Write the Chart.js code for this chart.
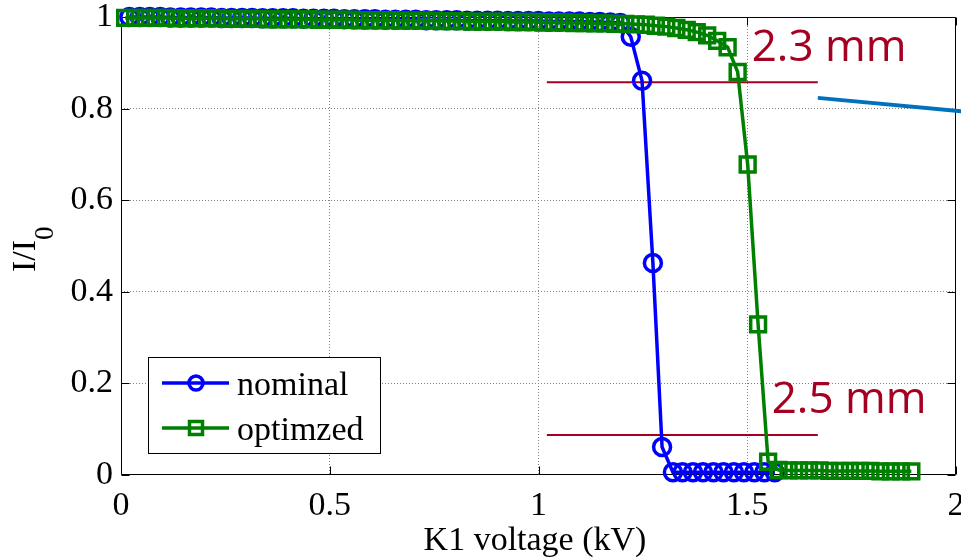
<!DOCTYPE html>
<html><head><meta charset="utf-8">
<script src="https://cdn.jsdelivr.net/npm/chart.js@4"></script>
<style>html,body{margin:0;padding:0;background:#fff;} canvas{display:block;}</style>
</head><body>
<canvas id="c" width="961" height="560"></canvas>
<script>
// ---------- data ----------
const xTicks = [0, 0.5, 1, 1.5, 2];
const xTickLabels = ['0', '0.5', '1', '1.5', '2'];
const yTicks = [0, 0.2, 0.4, 0.6, 0.8, 1];
const yTickLabels = ['0', '0.2', '0.4', '0.6', '0.8', '1'];
const seriesNames = ['nominal', 'optimzed'];
const xTitle = 'K1 voltage (kV)';
const yTitleMain = 'I/I';
const yTitleSub = '0';

const nominalX = [
  0.020,0.045,0.069,0.094,0.118,0.143,0.167,0.192,0.216,0.241,
  0.265,0.290,0.314,0.339,0.363,0.388,0.412,0.437,0.461,0.486,
  0.510,0.535,0.559,0.584,0.608,0.633,0.657,0.682,0.706,0.731,
  0.755,0.780,0.804,0.829,0.853,0.878,0.902,0.927,0.951,0.976,
  1.000,1.025,1.049,1.074,1.098,1.123,1.147,1.172,1.196,1.221,
  1.248,1.274,1.296,1.322,1.345,1.370,1.394,1.419,1.443,1.468,
  1.492,1.517,1.541,1.566
];
const nominalY = [
  1.000,1.000,1.000,1.000,0.999,0.999,0.999,0.999,0.999,0.998,
  0.998,0.998,0.998,0.997,0.997,0.997,0.997,0.996,0.996,0.996,
  0.996,0.995,0.995,0.995,0.995,0.994,0.994,0.994,0.994,0.993,
  0.993,0.993,0.993,0.992,0.992,0.992,0.992,0.991,0.991,0.991,
  0.991,0.990,0.990,0.990,0.990,0.989,0.989,0.988,0.987,0.957,
  0.861,0.463,0.061,0.006,0.006,0.006,0.006,0.006,0.006,0.006,
  0.006,0.006,0.006,0.006
];
const optimizedX = [
  0.010,0.034,0.059,0.083,0.108,0.132,0.157,0.181,0.206,0.230,
  0.255,0.279,0.303,0.328,0.352,0.377,0.401,0.426,0.450,0.475,
  0.499,0.523,0.548,0.572,0.597,0.621,0.646,0.670,0.695,0.719,
  0.744,0.768,0.792,0.817,0.841,0.866,0.890,0.915,0.939,0.964,
  0.988,1.012,1.037,1.061,1.086,1.110,1.135,1.159,1.184,1.208,
  1.233,1.257,1.281,1.306,1.330,1.355,1.379,1.404,1.428,1.453,
  1.477,1.501,1.526,1.550,1.575,1.599,1.624,1.648,1.673,1.697,
  1.722,1.746,1.770,1.795,1.819,1.844,1.868,1.893
];
const optimizedY = [
  0.998,0.998,0.998,0.998,0.998,0.997,0.997,0.997,0.997,0.997,
  0.996,0.996,0.996,0.996,0.995,0.995,0.995,0.995,0.995,0.994,
  0.994,0.994,0.994,0.993,0.993,0.993,0.993,0.992,0.992,0.992,
  0.992,0.991,0.991,0.991,0.990,0.990,0.990,0.990,0.989,0.989,
  0.989,0.988,0.988,0.988,0.987,0.987,0.986,0.986,0.985,0.985,
  0.984,0.983,0.981,0.979,0.976,0.972,0.967,0.960,0.948,0.934,
  0.880,0.678,0.329,0.029,0.011,0.010,0.010,0.010,0.010,0.009,
  0.009,0.009,0.009,0.009,0.008,0.008,0.008,0.008
];
// annotation lines (data units)
const line23X = [1.020, 1.669];
const line23Y = [0.8575, 0.8575];
const line25X = [1.020, 1.669];
const line25Y = [0.0874, 0.0874];
const pointerX = [1.669, 2.030];
const pointerY = [0.8234, 0.7925];
const annoText = ['2.3 mm', '2.5 mm'];
const annoX = [1.5106, 1.5585];
const annoY = [0.9033, 0.1349];

// ---------- helpers ----------
const zip = (xs, ys) => xs.map((x, i) => ({x: x, y: ys[i]}));
const SERIF = "'Liberation Serif','Times New Roman',serif";
const FS = 34;
const BLUE = '#0000FF', GREEN = '#008000', RED = '#A50021', LBLUE = '#0072BD';

const framePlugin = {
  id: 'frame',
  beforeDatasetsDraw(chart) {
    const {ctx, chartArea: a, scales: {x, y}} = chart;
    ctx.save();
    ctx.strokeStyle = '#000';
    ctx.lineWidth = 1;
    const L = Math.round(a.left) + 0.5, R = Math.round(a.right) - 0.5;
    const T = Math.round(a.top) + 0.5, B = Math.round(a.bottom) - 0.5;
    ctx.beginPath();
    ctx.rect(L, T, R - L, B - T);
    const tl = 8;
    xTicks.forEach(v => {
      const px = Math.round(x.getPixelForValue(v)) + 0.5;
      ctx.moveTo(px, B); ctx.lineTo(px, B - tl);
      ctx.moveTo(px, T); ctx.lineTo(px, T + tl);
    });
    yTicks.forEach(v => {
      const py = Math.round(y.getPixelForValue(v)) + 0.5;
      ctx.moveTo(L, py); ctx.lineTo(L + tl, py);
      ctx.moveTo(R, py); ctx.lineTo(R - tl, py);
    });
    ctx.stroke();
    ctx.restore();
  },
  afterDraw(chart) {
    const {ctx, scales: {x, y}} = chart;
    ctx.save();
    // annotation texts
    ctx.fillStyle = RED;
    ctx.font = "44px 'Open Sans', Lato, sans-serif";
    ctx.textAlign = 'left';
    ctx.textBaseline = 'alphabetic';
    annoText.forEach((t, i) => ctx.fillText(t, x.getPixelForValue(annoX[i]), y.getPixelForValue(annoY[i])));

    // x title
    ctx.fillStyle = '#000';
    ctx.font = FS + 'px ' + SERIF;
    ctx.textAlign = 'center';
    ctx.fillText(xTitle, 535, 550);

    // y title with subscript
    ctx.save();
    ctx.translate(35, 272);
    ctx.rotate(-Math.PI / 2);
    ctx.textAlign = 'left';
    ctx.font = FS + 'px ' + SERIF;
    ctx.fillText(yTitleMain, 0, 0);
    const w1 = ctx.measureText(yTitleMain).width;
    ctx.font = '27px ' + SERIF;
    ctx.fillText(yTitleSub, w1, 18);
    ctx.restore();

    // legend
    const bx = 148.5, by = 357.5, bw = 232, bh = 96;
    ctx.fillStyle = '#fff';
    ctx.fillRect(bx, by, bw, bh);
    ctx.strokeStyle = '#000';
    ctx.lineWidth = 1;
    ctx.strokeRect(bx, by, bw, bh);
    const rows = [
      {c: BLUE, y: 383, shape: 'circle', name: seriesNames[0]},
      {c: GREEN, y: 428, shape: 'rect', name: seriesNames[1]}
    ];
    rows.forEach(r => {
      ctx.strokeStyle = r.c;
      ctx.lineWidth = 3.5;
      ctx.beginPath();
      ctx.moveTo(162, r.y); ctx.lineTo(229, r.y);
      ctx.stroke();
      ctx.lineWidth = 3.5;
      ctx.beginPath();
      if (r.shape === 'circle') ctx.arc(196, r.y, 7, 0, Math.PI * 2);
      else ctx.rect(196 - 6.5, r.y - 6.5, 13, 13);
      ctx.stroke();
      ctx.fillStyle = '#000';
      ctx.font = FS + 'px ' + SERIF;
      ctx.textAlign = 'left';
      ctx.textBaseline = 'alphabetic';
      ctx.fillText(r.name, 237, r.y + 12);
    });
    ctx.restore();
  }
};

const gridColor = (lo, hi) => ctx => (ctx.tick && (ctx.tick.value === lo || ctx.tick.value === hi)) ? 'rgba(0,0,0,0)' : '#808080';

new Chart(document.getElementById('c'), {
  type: 'scatter',
  data: {
    datasets: [
      {
        label: seriesNames[1], data: zip(optimizedX, optimizedY), showLine: true, clip: false,
        borderColor: GREEN, borderWidth: 3.5, pointStyle: 'rect', pointRadius: 10.5,
        pointBorderWidth: 3.5, pointBorderColor: GREEN, pointBackgroundColor: 'rgba(0,0,0,0)', tension: 0
      },
      {
        label: seriesNames[0], data: zip(nominalX, nominalY), showLine: true, clip: false,
        borderColor: BLUE, borderWidth: 3.5, pointStyle: 'circle', pointRadius: 8.5,
        pointBorderWidth: 3.5, pointBorderColor: BLUE, pointBackgroundColor: 'rgba(0,0,0,0)', tension: 0
      },
      { data: zip(line23X, line23Y), showLine: true, borderColor: RED, borderWidth: 2, pointRadius: 0, clip: false },
      { data: zip(line25X, line25Y), showLine: true, borderColor: RED, borderWidth: 2, pointRadius: 0, clip: false },
      { data: zip(pointerX, pointerY), showLine: true, borderColor: LBLUE, borderWidth: 4, pointRadius: 0, clip: false }
    ]
  },
  options: {
    responsive: false,
    animation: false,
    devicePixelRatio: 1,
    layout: { autoPadding: false, padding: { top: 17, right: 5, left: 0, bottom: 0 } },
    plugins: { legend: { display: false }, tooltip: { enabled: false } },
    events: [],
    scales: {
      x: {
        type: 'linear', min: 0, max: 2,
        afterBuildTicks: s => { s.ticks = xTicks.map(v => ({value: v})); },
        ticks: {
          callback: v => xTickLabels[xTicks.indexOf(v)],
          font: { family: SERIF, size: FS }, color: '#000', padding: 11,
          maxRotation: 0, autoSkip: false
        },
        grid: { color: gridColor(0, 2), drawTicks: false, lineWidth: 1 },
        border: { display: false, dash: [1, 2] },
        afterFit: s => { s.height = 85; s.paddingLeft = 0; s.paddingRight = 0; }
      },
      y: {
        type: 'linear', min: 0, max: 1,
        afterBuildTicks: s => { s.ticks = yTicks.map(v => ({value: v})); },
        ticks: {
          callback: v => yTickLabels[yTicks.indexOf(v)],
          font: { family: SERIF, size: FS }, color: '#000', padding: 8, autoSkip: false
        },
        grid: { color: gridColor(0, 1), drawTicks: false, lineWidth: 1 },
        border: { display: false, dash: [1, 2] },
        afterFit: s => { s.width = 121; s.paddingTop = 0; s.paddingBottom = 0; }
      }
    }
  },
  plugins: [framePlugin]
});
</script>
</body></html>
